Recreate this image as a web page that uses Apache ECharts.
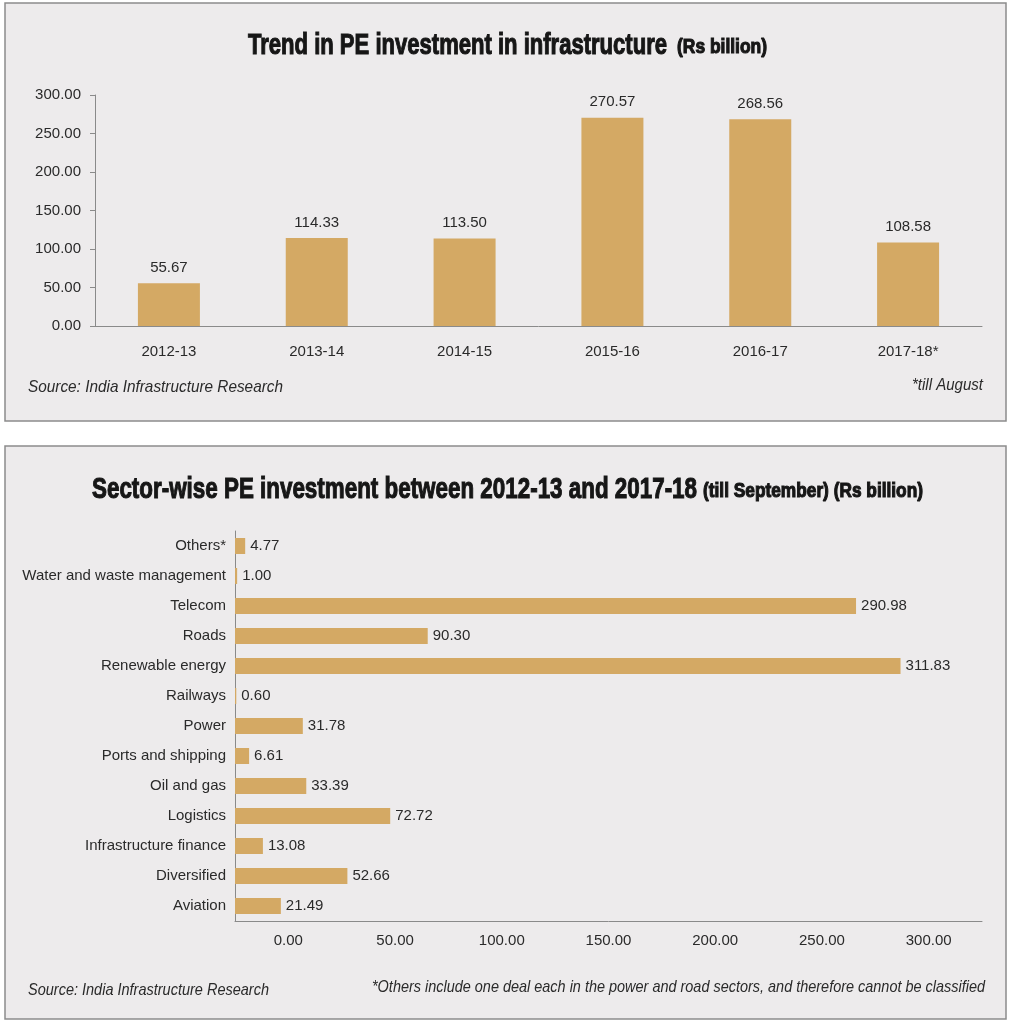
<!DOCTYPE html>
<html>
<head>
<meta charset="utf-8">
<script src="https://cdn.jsdelivr.net/npm/echarts@6/dist/echarts.min.js"></script>
<style>
  html, body { margin: 0; padding: 0; background: #ffffff; }
  #chart { width: 1010px; height: 1024px; }
</style>
</head>
<body>
<div id="chart"></div>
<script>
// top chart: yearly PE investment (Rs billion)
var years = ['2012-13', '2013-14', '2014-15', '2015-16', '2016-17', '2017-18*'];
var yearValues = [55.67, 114.33, 113.50, 270.57, 268.56, 108.58];

// bottom chart: sector-wise (listed top to bottom)
var sectors = ['Others*', 'Water and waste management', 'Telecom', 'Roads', 'Renewable energy',
  'Railways', 'Power', 'Ports and shipping', 'Oil and gas', 'Logistics',
  'Infrastructure finance', 'Diversified', 'Aviation'];
var sectorValues = [4.77, 1.00, 290.98, 90.30, 311.83, 0.60, 31.78, 6.61, 33.39, 72.72, 13.08, 52.66, 21.49];
var sectorTickLabels = ['0.00', '50.00', '100.00', '150.00', '200.00', '250.00', '300.00'];

var barColor = '#d4a964';
var txt = '#2a2a2a';
var font = '"Liberation Sans", Arial, sans-serif';
var axisColor = '#8a8a8a';

// the picture uses condensed type: squeeze free text into the width it has there
var measureCtx = document.createElement('canvas').getContext('2d');
function fitText(str, x, y, f, width, align, extra) {
    measureCtx.font = f;
    var w = measureCtx.measureText(str).width;
    var style = { text: str, font: f, fill: txt, verticalAlign: 'middle', align: align || 'left' };
    if (extra) { for (var k in extra) style[k] = extra[k]; }
    return { type: 'text', x: x, y: y, scaleX: width / w, scaleY: 1, style: style };
}
function titleText(str, x, y, size, width) {
    return fitText(str, x, y, 'bold ' + size + 'px ' + font, width, 'left',
        { fill: '#161616', stroke: '#161616', lineWidth: 1.1 });
}

var myChart = echarts.init(document.getElementById('chart'));

var option = {
    backgroundColor: '#ffffff',
    animation: false,
    graphic: [
        { type: 'rect', z: -10, shape: { x: 5, y: 3, width: 1001, height: 418 },
          style: { fill: '#edebec', stroke: '#8c8c8c', lineWidth: 1.5 } },
        { type: 'rect', z: -10, shape: { x: 5, y: 446, width: 1001, height: 573 },
          style: { fill: '#edebec', stroke: '#8c8c8c', lineWidth: 1.5 } },
        titleText('Trend in PE investment in infrastructure', 248, 46, 30, 419),
        titleText('(Rs billion)', 677, 47, 20, 90),
        titleText('Sector-wise PE investment between 2012-13 and 2017-18', 92, 490, 30, 605),
        titleText('(till September) (Rs billion)', 703, 491, 20, 220),
        fitText('Source: India Infrastructure Research', 28, 387, 'italic 17px ' + font, 255),
        fitText('*till August', 983, 385, 'italic 17px ' + font, 71, 'right'),
        fitText('Source: India Infrastructure Research', 28, 990, 'italic 17px ' + font, 241),
        fitText('*Others include one deal each in the power and road sectors, and therefore cannot be classified',
            985, 987, 'italic 17px ' + font, 613, 'right')
    ],
    grid: [
        { left: 95, top: 95, width: 887, height: 231, outerBoundsMode: 'none' },
        { left: 235, top: 531, width: 747, height: 390, outerBoundsMode: 'none' }
    ],
    xAxis: [
        {
            gridIndex: 0, type: 'category', data: years,
            axisLine: { lineStyle: { color: axisColor } },
            axisTick: { length: 5, lineStyle: { color: axisColor } },
            axisLabel: { color: txt, fontFamily: font, fontSize: 15, margin: 18 }
        },
        {
            // value scale for the sector bars, drawn through the category axis below
            gridIndex: 1, type: 'value', min: 0, max: 350, interval: 50,
            show: false
        },
        {
            gridIndex: 1, type: 'category', data: sectorTickLabels, position: 'bottom',
            axisLine: { lineStyle: { color: axisColor } },
            axisTick: { length: 5, lineStyle: { color: axisColor } },
            axisLabel: { color: txt, fontFamily: font, fontSize: 15, margin: 12 }
        }
    ],
    yAxis: [
        {
            gridIndex: 0, type: 'value', min: 0, max: 300, interval: 50,
            splitLine: { show: false },
            axisLine: { show: true, lineStyle: { color: axisColor } },
            axisTick: { show: true, length: 5, lineStyle: { color: axisColor } },
            axisLabel: { color: txt, fontFamily: font, fontSize: 15, margin: 14,
                formatter: function (v) { return v.toFixed(2); } }
        },
        {
            gridIndex: 1, type: 'category', data: sectors, inverse: true,
            axisLine: { lineStyle: { color: axisColor } },
            axisTick: { length: 5, lineStyle: { color: axisColor } },
            axisLabel: { color: txt, fontFamily: font, fontSize: 15, margin: 9 }
        }
    ],
    series: [
        {
            name: 'year', type: 'bar', xAxisIndex: 0, yAxisIndex: 0,
            data: yearValues, barWidth: 62,
            itemStyle: { color: barColor },
            label: { show: true, position: 'top', distance: 8, color: txt, fontFamily: font, fontSize: 15,
                formatter: function (p) { return p.value.toFixed(2); } }
        },
        {
            name: 'sector', type: 'bar', xAxisIndex: 1, yAxisIndex: 1,
            data: sectorValues, barWidth: 16,
            itemStyle: { color: barColor },
            label: { show: true, position: 'right', distance: 5, color: txt, fontFamily: font, fontSize: 15,
                formatter: function (p) { return p.value.toFixed(2); } }
        }
    ]
};

myChart.setOption(option);
</script>
</body>
</html>
